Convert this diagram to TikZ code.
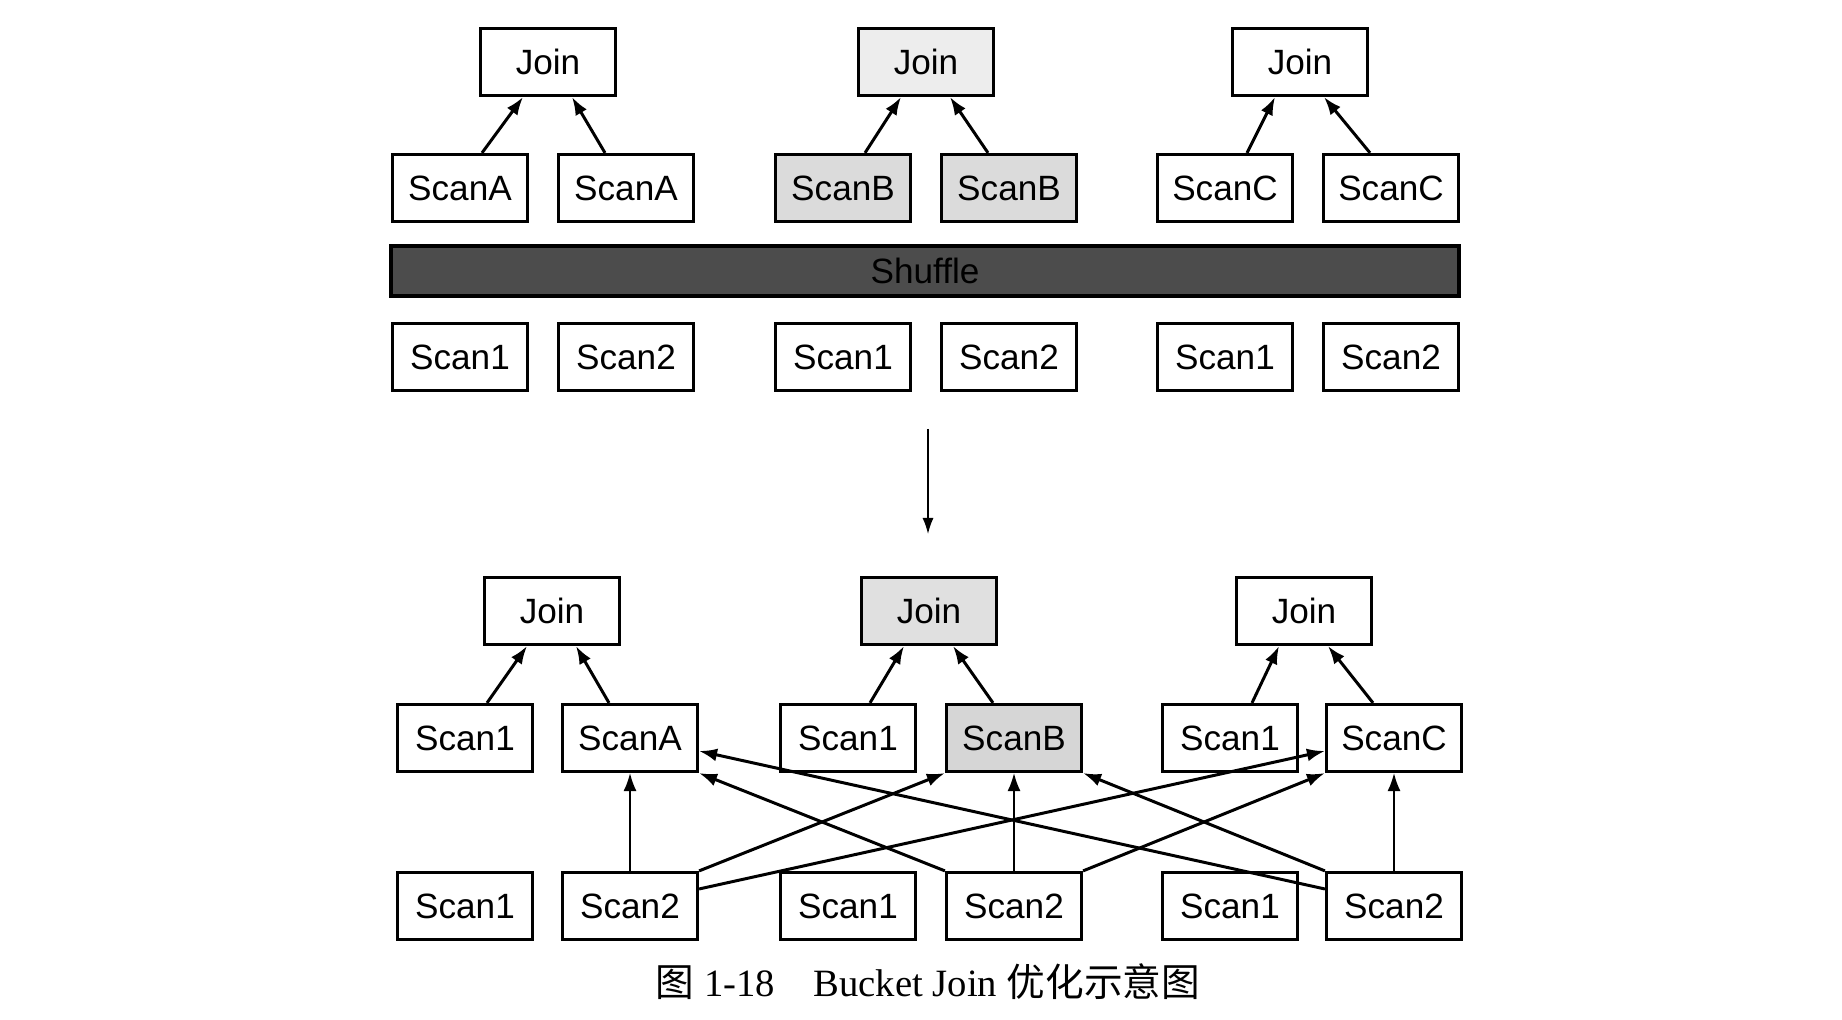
\documentclass[tikz,border=0pt]{standalone}
\usepackage{fontspec}
\setmainfont{Liberation Serif}
\setsansfont{Liberation Sans}
\newfontfamily\cjk{Noto Sans CJK SC}
\usetikzlibrary{arrows.meta}
\tikzset{
	opbox/.style={draw=black, line width=0.9pt, minimum width=1.35cm, minimum height=0.67cm, inner sep=0pt, font=\sffamily\fontsize{10}{12}\selectfont},
	flow/.style={draw=black, -{Latex[length=1.8mm,width=1.3mm]}, line width=0.85pt},
}
\begin{document}
\begin{tikzpicture}
	\useasboundingbox (0.00,0.00) rectangle (18.42,10.20);
	\node[opbox] (tj1) at (5.48,9.58) {Join};
	\node[opbox, fill=black!7] (tj2) at (9.26,9.58) {Join};
	\node[opbox] (tj3) at (13.00,9.58) {Join};
	\node[opbox] (ta1) at (4.60,8.32) {ScanA};
	\node[opbox] (ta2) at (6.26,8.32) {ScanA};
	\node[opbox, fill=black!14] (tb1) at (8.43,8.32) {ScanB};
	\node[opbox, fill=black!14] (tb2) at (10.09,8.32) {ScanB};
	\node[opbox] (tc1) at (12.25,8.32) {ScanC};
	\node[opbox] (tc2) at (13.91,8.32) {ScanC};
	\node[draw=black, line width=0.9pt, fill=black!70, minimum width=10.68cm, minimum height=0.50cm, inner sep=0pt, font=\sffamily\fontsize{10}{12}\selectfont] (shuf) at (9.25,7.49) {Shuffle};
	\node[opbox] (ts1) at (4.60,6.63) {Scan1};
	\node[opbox] (ts2) at (6.26,6.63) {Scan2};
	\node[opbox] (ts3) at (8.43,6.63) {Scan1};
	\node[opbox] (ts4) at (10.09,6.63) {Scan2};
	\node[opbox] (ts5) at (12.25,6.63) {Scan1};
	\node[opbox] (ts6) at (13.91,6.63) {Scan2};
	\draw[flow] ([xshift=0.22cm]ta1.north) -- ([xshift=-0.25cm]tj1.south);
	\draw[flow] ([xshift=-0.21cm]ta2.north) -- ([xshift=0.24cm]tj1.south);
	\draw[flow] ([xshift=0.22cm]tb1.north) -- ([xshift=-0.25cm]tj2.south);
	\draw[flow] ([xshift=-0.21cm]tb2.north) -- ([xshift=0.24cm]tj2.south);
	\draw[flow] ([xshift=0.22cm]tc1.north) -- ([xshift=-0.25cm]tj3.south);
	\draw[flow] ([xshift=-0.21cm]tc2.north) -- ([xshift=0.24cm]tj3.south);
	\coordinate (downtop) at (9.28,5.91);
	\coordinate (downbot) at (9.28,4.86);
	\draw[draw=black, -{Latex[length=1.6mm,width=1.1mm]}, thin] (downtop) -- (downbot);
	\node[opbox] (bj1) at (5.52,4.09) {Join};
	\node[opbox, fill=black!12] (bj2) at (9.29,4.09) {Join};
	\node[opbox] (bj3) at (13.04,4.09) {Join};
	\node[opbox] (m1) at (4.65,2.82) {Scan1};
	\node[opbox] (m2) at (6.30,2.82) {ScanA};
	\node[opbox] (m3) at (8.48,2.82) {Scan1};
	\node[opbox, fill=black!16] (m4) at (10.14,2.82) {ScanB};
	\node[opbox] (m5) at (12.30,2.82) {Scan1};
	\node[opbox] (m6) at (13.94,2.82) {ScanC};
	\node[opbox] (b1) at (4.65,1.14) {Scan1};
	\node[opbox] (b2) at (6.30,1.14) {Scan2};
	\node[opbox] (b3) at (8.48,1.14) {Scan1};
	\node[opbox] (b4) at (10.14,1.14) {Scan2};
	\node[opbox] (b5) at (12.30,1.14) {Scan1};
	\node[opbox] (b6) at (13.94,1.14) {Scan2};
	\draw[flow] ([xshift=0.22cm]m1.north) -- ([xshift=-0.25cm]bj1.south);
	\draw[flow] ([xshift=-0.21cm]m2.north) -- ([xshift=0.24cm]bj1.south);
	\draw[flow] ([xshift=0.22cm]m3.north) -- ([xshift=-0.25cm]bj2.south);
	\draw[flow] ([xshift=-0.21cm]m4.north) -- ([xshift=0.24cm]bj2.south);
	\draw[flow] ([xshift=0.22cm]m5.north) -- ([xshift=-0.25cm]bj3.south);
	\draw[flow] ([xshift=-0.21cm]m6.north) -- ([xshift=0.24cm]bj3.south);
	\draw[flow, line width=0.5pt] (b2.north) -- (m2.south);
	\draw[flow, line width=0.5pt] (b4.north) -- (m4.south);
	\draw[flow, line width=0.5pt] (b6.north) -- (m6.south);
	\draw[flow] (b2.north east) -- (m4.south west);
	\draw[flow] ([yshift=0.17cm]b2.east) -- ([yshift=-0.13cm]m6.west);
	\draw[flow] (b4.north west) -- (m2.south east);
	\draw[flow] (b4.north east) -- (m6.south west);
	\draw[flow] ([yshift=0.17cm]b6.west) -- ([yshift=-0.13cm]m2.east);
	\draw[flow] (b6.north west) -- (m4.south east);
	\node[font=\fontsize{11}{13}\selectfont] (cap) at (9.28,0.38) {{\cjk 图}~1-18\quad Bucket Join {\cjk 优化示意图}};
\end{tikzpicture}
\end{document}
